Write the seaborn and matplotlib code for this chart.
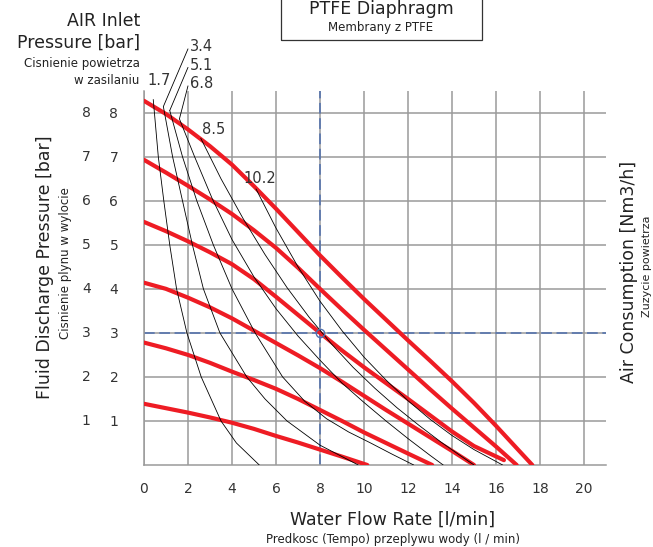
import matplotlib
matplotlib.use('Agg')
import matplotlib.pyplot as plt
import seaborn as sns
import pandas as pd

# fluid discharge pressure curves (red), one per air inlet pressure
fluid_flow = [
    [0, 1, 2, 3, 4, 5, 6, 7, 8, 9, 10.15],
    [0, 1, 2, 3, 4, 5, 6, 7, 8, 9, 10, 11, 12, 13.1],
    [0, 1, 2, 3, 4, 5, 6, 7, 8, 9, 10, 11, 12, 13, 14, 15.0],
    [0, 1, 2, 3, 4, 5, 6, 7, 8, 9, 10, 11, 12, 13, 14, 15, 16.36],
    [0, 1, 2, 3, 4, 5, 6, 7, 8, 9, 10, 11, 12, 13, 14, 15, 16, 16.94],
    [0, 1, 2, 3, 4, 5, 6, 7, 8, 9, 10, 11, 12, 13, 14, 15, 16, 17, 17.65],
]
fluid_press = [
    [1.39, 1.29, 1.19, 1.08, 0.96, 0.82, 0.66, 0.51, 0.35, 0.19, 0],
    [2.78, 2.65, 2.5, 2.32, 2.12, 1.93, 1.73, 1.5, 1.25, 1.0, 0.74, 0.5, 0.26, 0],
    [4.14, 4.0, 3.8, 3.58, 3.33, 3.05, 2.77, 2.49, 2.2, 1.89, 1.57, 1.25, 0.94, 0.63, 0.32, 0],
    [5.52, 5.31, 5.08, 4.83, 4.56, 4.22, 3.82, 3.41, 3.0, 2.6, 2.22, 1.86, 1.5, 1.13, 0.76, 0.43, 0.11, 0],
    [6.93, 6.64, 6.34, 6.03, 5.7, 5.33, 4.93, 4.48, 4.0, 3.53, 3.07, 2.62, 2.17, 1.72, 1.28, 0.85, 0.42, 0],
    [8.27, 7.97, 7.62, 7.24, 6.82, 6.33, 5.82, 5.29, 4.76, 4.26, 3.77, 3.3, 2.83, 2.37, 1.9, 1.41, 0.89, 0.35, 0],
]

# air consumption curves (black), Nm3/h
air_labels = ['1.7', '3.4', '5.1', '6.8', '8.5', '10.2']
air_flow = [
    [0.42, 0.65, 0.9, 1.17, 1.48, 1.95, 2.6, 3.5, 4.2, 5.24],
    [0.88, 1.3, 1.75, 2.2, 2.7, 3.45, 4.67, 5.5, 6.5, 8.0, 9.74],
    [1.17, 1.75, 2.4, 3.15, 4.0, 5.05, 6.3, 7.3, 8.3, 9.3, 10.3, 11.3, 12.26],
    [1.61, 2.3, 3.1, 4.0, 5.0, 6.0, 7.0, 8.0, 9.0, 10.0, 11.0, 12.0, 13.0, 13.6],
    [2.58, 3.5, 4.5, 5.5, 6.5, 7.5, 8.5, 9.5, 10.5, 11.5, 12.5, 13.5, 14.3, 15.0],
    [5.09, 6.0, 7.0, 8.0, 9.0, 10.0, 11.0, 12.0, 13.0, 14.0, 15.0, 16.3],
]
air_press = [
    [8.3, 7.0, 6.0, 5.0, 4.0, 3.0, 2.0, 1.0, 0.5, 0],
    [8.14, 7.0, 6.0, 5.0, 4.0, 3.0, 2.0, 1.5, 1.0, 0.45, 0],
    [8.05, 7.0, 6.0, 5.0, 4.0, 3.0, 2.0, 1.45, 1.05, 0.75, 0.5, 0.24, 0],
    [7.86, 7.0, 6.05, 5.12, 4.27, 3.55, 2.93, 2.38, 1.86, 1.42, 1.0, 0.6, 0.22, 0],
    [7.42, 6.5, 5.6, 4.78, 4.03, 3.36, 2.76, 2.22, 1.74, 1.3, 0.9, 0.52, 0.24, 0],
    [6.27, 5.38, 4.5, 3.72, 3.05, 2.45, 1.93, 1.46, 1.04, 0.67, 0.35, 0],
]
# where each air consumption label sits (data coords)
label_x = [0.14, 2.1, 2.1, 2.1, 2.64, 4.5]
label_y = [8.73, 9.5, 9.08, 8.66, 7.62, 6.5]
leader = [False, True, True, True, False, False]

x_ticks = list(range(0, 21, 2))
y_ticks = list(range(1, 9))
duty_point = (8, 3)

sns.set_style('white')
plt.rcParams['font.family'] = ['DejaVu Sans']

fig = plt.figure(figsize=(6.53, 5.47), dpi=100)
ax = fig.add_axes([144 / 653, 1 - 465 / 547, 462 / 653, 374.3 / 547])

rows = []
for i, (xs, ys) in enumerate(zip(fluid_flow, fluid_press)):
    rows += [{'flow': a, 'press': b, 'curve': i} for a, b in zip(xs, ys)]
fluid = pd.DataFrame(rows)
rows = []
for i, (xs, ys) in enumerate(zip(air_flow, air_press)):
    rows += [{'flow': a, 'press': b, 'curve': i} for a, b in zip(xs, ys)]
air = pd.DataFrame(rows)

# duty point cross lines
ax.axvline(duty_point[0], color='#4f6fae', lw=1.1, ls=(0, (7, 3)), zorder=2)
ax.axhline(duty_point[1], color='#4f6fae', lw=1.1, ls=(0, (7, 3)), zorder=2)

sns.lineplot(data=fluid, x='flow', y='press', units='curve', estimator=None,
             color='#ee1c24', lw=3.0, sort=False, ax=ax, zorder=3)
sns.lineplot(data=air, x='flow', y='press', units='curve', estimator=None,
             color='black', lw=0.6, sort=False, ax=ax, zorder=4)
ax.plot(*duty_point, 'o', mfc='none', mec='#4f6fae', ms=6, mew=1.0, zorder=5)

for i, lab in enumerate(air_labels):
    ax.text(label_x[i], label_y[i], lab, fontsize=10.5, color='#333',
            ha='left', va='center')
    if leader[i]:
        ax.plot([air_flow[i][0], label_x[i] - 0.1], [air_press[i][0], label_y[i] - 0.05],
                color='black', lw=0.6, clip_on=False)

ax.set_xlim(0, 21.0)
ax.set_ylim(0, 8.5)
ax.set_xticks(x_ticks)
ax.set_yticks(y_ticks)
ax.grid(True, color='#9a9a9a', lw=1.1)
ax.set_axisbelow(True)
ax.tick_params(length=0, labelsize=10, labelcolor='#333')
ax.tick_params(axis='x', pad=12)
ax.tick_params(axis='y', pad=18.5)
for s in ['top', 'right']:
    ax.spines[s].set_visible(False)
for s in ['left', 'bottom']:
    ax.spines[s].set_color('#9a9a9a')
    ax.spines[s].set_linewidth(1.1)
ax.set_xlabel('')
ax.set_ylabel('')

# second column of pressure numbers
for v in y_ticks:
    ax.text(-0.125, v, str(v), transform=ax.get_yaxis_transform(), fontsize=10,
            color='#333', ha='center', va='center')

def ftext(px, py, s, **kw):
    fig.text(px / 653, 1 - py / 547, s, **kw)

ftext(393, 520, 'Water Flow Rate [l/min]', fontsize=12.5, ha='center', va='center', color='#222')
ftext(393, 539, 'Predkosc (Tempo) przeplywu wody (l / min)', fontsize=8.5, ha='center', va='center', color='#222')
ftext(45, 267, 'Fluid Discharge Pressure [bar]', fontsize=12.5, rotation=90, ha='center', va='center', color='#222')
ftext(65, 263, 'Cisnienie plynu w wylocie', fontsize=8.5, rotation=90, ha='center', va='center', color='#222')
ftext(629, 272, 'Air Consumption [Nm3/h]', fontsize=12.5, rotation=90, ha='center', va='center', color='#222')
ftext(646.5, 266, 'Zuzycie powietrza', fontsize=8, rotation=90, ha='center', va='center', color='#222')
ftext(140, 21, 'AIR Inlet', fontsize=12.5, ha='right', va='center', color='#222')
ftext(140, 43, 'Pressure [bar]', fontsize=12.5, ha='right', va='center', color='#222')
ftext(140, 63, 'Cisnienie powietrza', fontsize=8.5, ha='right', va='center', color='#222')
ftext(139, 80, 'w zasilaniu', fontsize=8.5, ha='right', va='center', color='#222')

box = plt.Rectangle((281 / 653, 1 - 39.5 / 547), 201 / 653, 50 / 547, transform=fig.transFigure,
                    fill=False, ec='#333', lw=0.9, clip_on=False)
fig.patches.append(box)
ftext(381, 9, 'PTFE Diaphragm', fontsize=12.5, ha='center', va='center', color='#222')
ftext(381, 28, 'Membrany z PTFE', fontsize=8.5, ha='center', va='center', color='#222')

fig.savefig('out.png', dpi=100)
